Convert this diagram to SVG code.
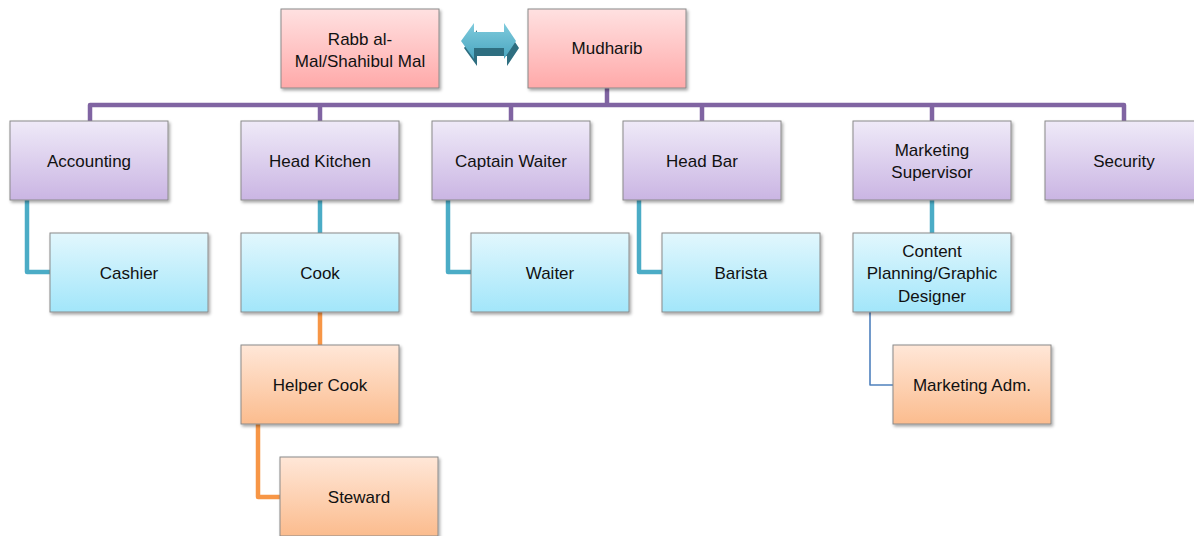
<svg xmlns="http://www.w3.org/2000/svg" width="1194" height="536" viewBox="0 0 1194 536">
<defs>
<linearGradient id="gPink" x1="0" y1="0" x2="0" y2="1"><stop offset="0" stop-color="#FFE1E1"/><stop offset="1" stop-color="#FFA9A9"/></linearGradient>
<linearGradient id="gPurple" x1="0" y1="0" x2="0" y2="1"><stop offset="0" stop-color="#EFEAF8"/><stop offset="1" stop-color="#CAB5E3"/></linearGradient>
<linearGradient id="gCyan" x1="0" y1="0" x2="0" y2="1"><stop offset="0" stop-color="#E2F7FD"/><stop offset="1" stop-color="#A2E6FA"/></linearGradient>
<linearGradient id="gOrange" x1="0" y1="0" x2="0" y2="1"><stop offset="0" stop-color="#FFE7D8"/><stop offset="1" stop-color="#FBBC8E"/></linearGradient>
<linearGradient id="gArrow" x1="0" y1="0" x2="0" y2="1"><stop offset="0" stop-color="#7FCBDD"/><stop offset="1" stop-color="#4AA6C0"/></linearGradient>
<filter id="sh" x="-10%" y="-10%" width="125%" height="130%"><feDropShadow dx="1.5" dy="2" stdDeviation="1.5" flood-color="#000" flood-opacity="0.35"/></filter>
</defs>
<style>
.box{stroke:#8A8A8A;stroke-width:1;filter:url(#sh)}
.pink{fill:url(#gPink)}.purple{fill:url(#gPurple)}.cyan{fill:url(#gCyan)}.orange{fill:url(#gOrange)}
text{font-family:"Liberation Sans",Arial,sans-serif;font-size:17px;fill:#111;text-anchor:middle;dominant-baseline:central}
.c{fill:none;stroke-linejoin:round;stroke-linecap:butt}
.cp{stroke:#8064A2;stroke-width:4.5}
.ct{stroke:#4BACC6;stroke-width:4.5}
.co{stroke:#F79646;stroke-width:4.5}
.cb{stroke:#4F81BD;stroke-width:1.6}
</style>
<g id="connectors">
<path class="c cp" d="M607 88V105M90 121V105H1124V121M320 105V121M511 105V121M702 105V121M932 105V121"/>
<path class="c ct" d="M27 200V272H50M320 200V233M448 200V272H471M639 200V272H662M932 200V233"/>
<path class="c co" d="M320 312V345M258 424V497H280"/>
<path class="c cb" d="M870 312V385H893"/>
</g>
<g id="arrow">
<polygon fill="#2E6E80" points="464,48 477,30 477,39 507,39 507,30 519,48 507,66 507,56 477,56 477,66"/>
<polygon fill="url(#gArrow)" points="461,41 474,23 474,32 504,32 504,23 516,41 504,59 504,48 474,48 474,59"/>
</g>
<g id="n-rabb"><rect class="box pink" x="281" y="9" width="158" height="79"/><text x="360" y="39">Rabb al-</text><text x="360" y="61">Mal/Shahibul Mal</text></g>
<g id="n-mudharib"><rect class="box pink" x="528" y="9" width="158" height="79"/><text x="607" y="48.5">Mudharib</text></g>
<g id="n-accounting"><rect class="box purple" x="10" y="121" width="158" height="79"/><text x="89" y="161.5">Accounting</text></g>
<g id="n-headkitchen"><rect class="box purple" x="241" y="121" width="158" height="79"/><text x="320" y="161.5">Head Kitchen</text></g>
<g id="n-captain"><rect class="box purple" x="432" y="121" width="158" height="79"/><text x="511" y="161.5">Captain Waiter</text></g>
<g id="n-headbar"><rect class="box purple" x="623" y="121" width="158" height="79"/><text x="702" y="161.5">Head Bar</text></g>
<g id="n-marketing"><rect class="box purple" x="853" y="121" width="158" height="79"/><text x="932" y="150">Marketing</text><text x="932" y="172">Supervisor</text></g>
<g id="n-security"><rect class="box purple" x="1045" y="121" width="158" height="79"/><text x="1124" y="161.5">Security</text></g>
<g id="n-cashier"><rect class="box cyan" x="50" y="233" width="158" height="79"/><text x="129" y="273.5">Cashier</text></g>
<g id="n-cook"><rect class="box cyan" x="241" y="233" width="158" height="79"/><text x="320" y="273.5">Cook</text></g>
<g id="n-waiter"><rect class="box cyan" x="471" y="233" width="158" height="79"/><text x="550" y="273.5">Waiter</text></g>
<g id="n-barista"><rect class="box cyan" x="662" y="233" width="158" height="79"/><text x="741" y="273.5">Barista</text></g>
<g id="n-content"><rect class="box cyan" x="853" y="233" width="158" height="79"/><text x="932" y="251">Content</text><text x="932" y="273.5">Planning/Graphic</text><text x="932" y="296">Designer</text></g>
<g id="n-helper"><rect class="box orange" x="241" y="345" width="158" height="79"/><text x="320" y="385.5">Helper Cook</text></g>
<g id="n-mktadm"><rect class="box orange" x="893" y="345" width="158" height="79"/><text x="972" y="385.5">Marketing Adm.</text></g>
<g id="n-steward"><rect class="box orange" x="280" y="457" width="158" height="79"/><text x="359" y="497.5">Steward</text></g>
</svg>
